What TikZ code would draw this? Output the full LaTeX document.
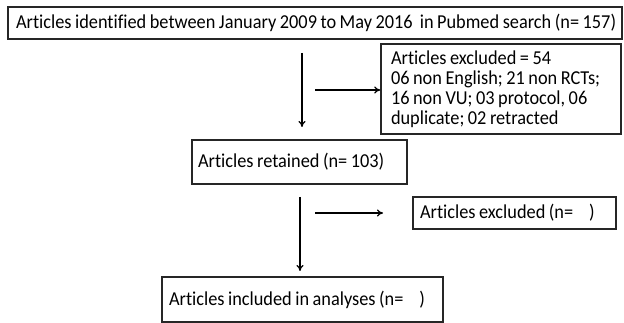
\documentclass[tikz,border=0pt]{standalone}
\usepackage{fontspec}
\setmainfont{Carlito}[Ligatures={NoCommon},WordSpace={0.85},FakeStretch=0.93]
\usetikzlibrary{arrows.meta}
\begin{document}
\begin{tikzpicture}[x=1pt,y=-1pt,
  box/.style={draw=black!85,line width=1.4pt,rectangle,align=flush left,inner ysep=0pt,
    font=\fontsize{19.7}{20.1}\selectfont},
  arr/.style={line width=1.3pt,-{To[length=6pt,width=7pt]}}]
\useasboundingbox (0,0) rectangle (624,323);
\node[box,minimum width=614pt,minimum height=32pt,text width=604pt,inner xsep=5pt] (top) at (315,23)
  {\hspace{3pt}Articles identified between January 2009 to May 2016\ \ in Pubmed search (n= 157)};
\node[box,minimum width=240pt,minimum height=90pt,text width=220pt,inner xsep=10pt] (exc1) at (501,89)
  {Articles excluded = 54\\06 non English; 21 non RCTs;\\16 non VU; 03 protocol, 06\\duplicate; 02 retracted};
\node[box,minimum width=215pt,minimum height=44pt,text width=203pt,inner xsep=6pt] (ret) at (299.5,162)
  {Articles retained (n= 103)};
\node[box,minimum width=203pt,minimum height=32pt,text width=189pt,inner xsep=7pt] (exc2) at (514.5,213)
  {Articles excluded (n=\hspace{16pt})};
\node[box,minimum width=281pt,minimum height=45pt,text width=267pt,inner xsep=7pt] (inc) at (302.5,299.5)
  {Articles included in analyses (n=\hspace{16pt})};
\coordinate (v1s) at (302,53);
\coordinate (v1e) at (302,127);
\coordinate (h1s) at (315,90);
\coordinate (h1e) at (exc1.west |- h1s);
\coordinate (v2s) at (300,197);
\coordinate (v2e) at (300,271);
\coordinate (h2s) at (315,213);
\coordinate (h2e) at (383,213);
\draw[arr] (v1s) -- (v1e);
\draw[arr] (h1s) -- (h1e);
\draw[arr] (v2s) -- (v2e);
\draw[arr] (h2s) -- (h2e);
\end{tikzpicture}
\end{document}
